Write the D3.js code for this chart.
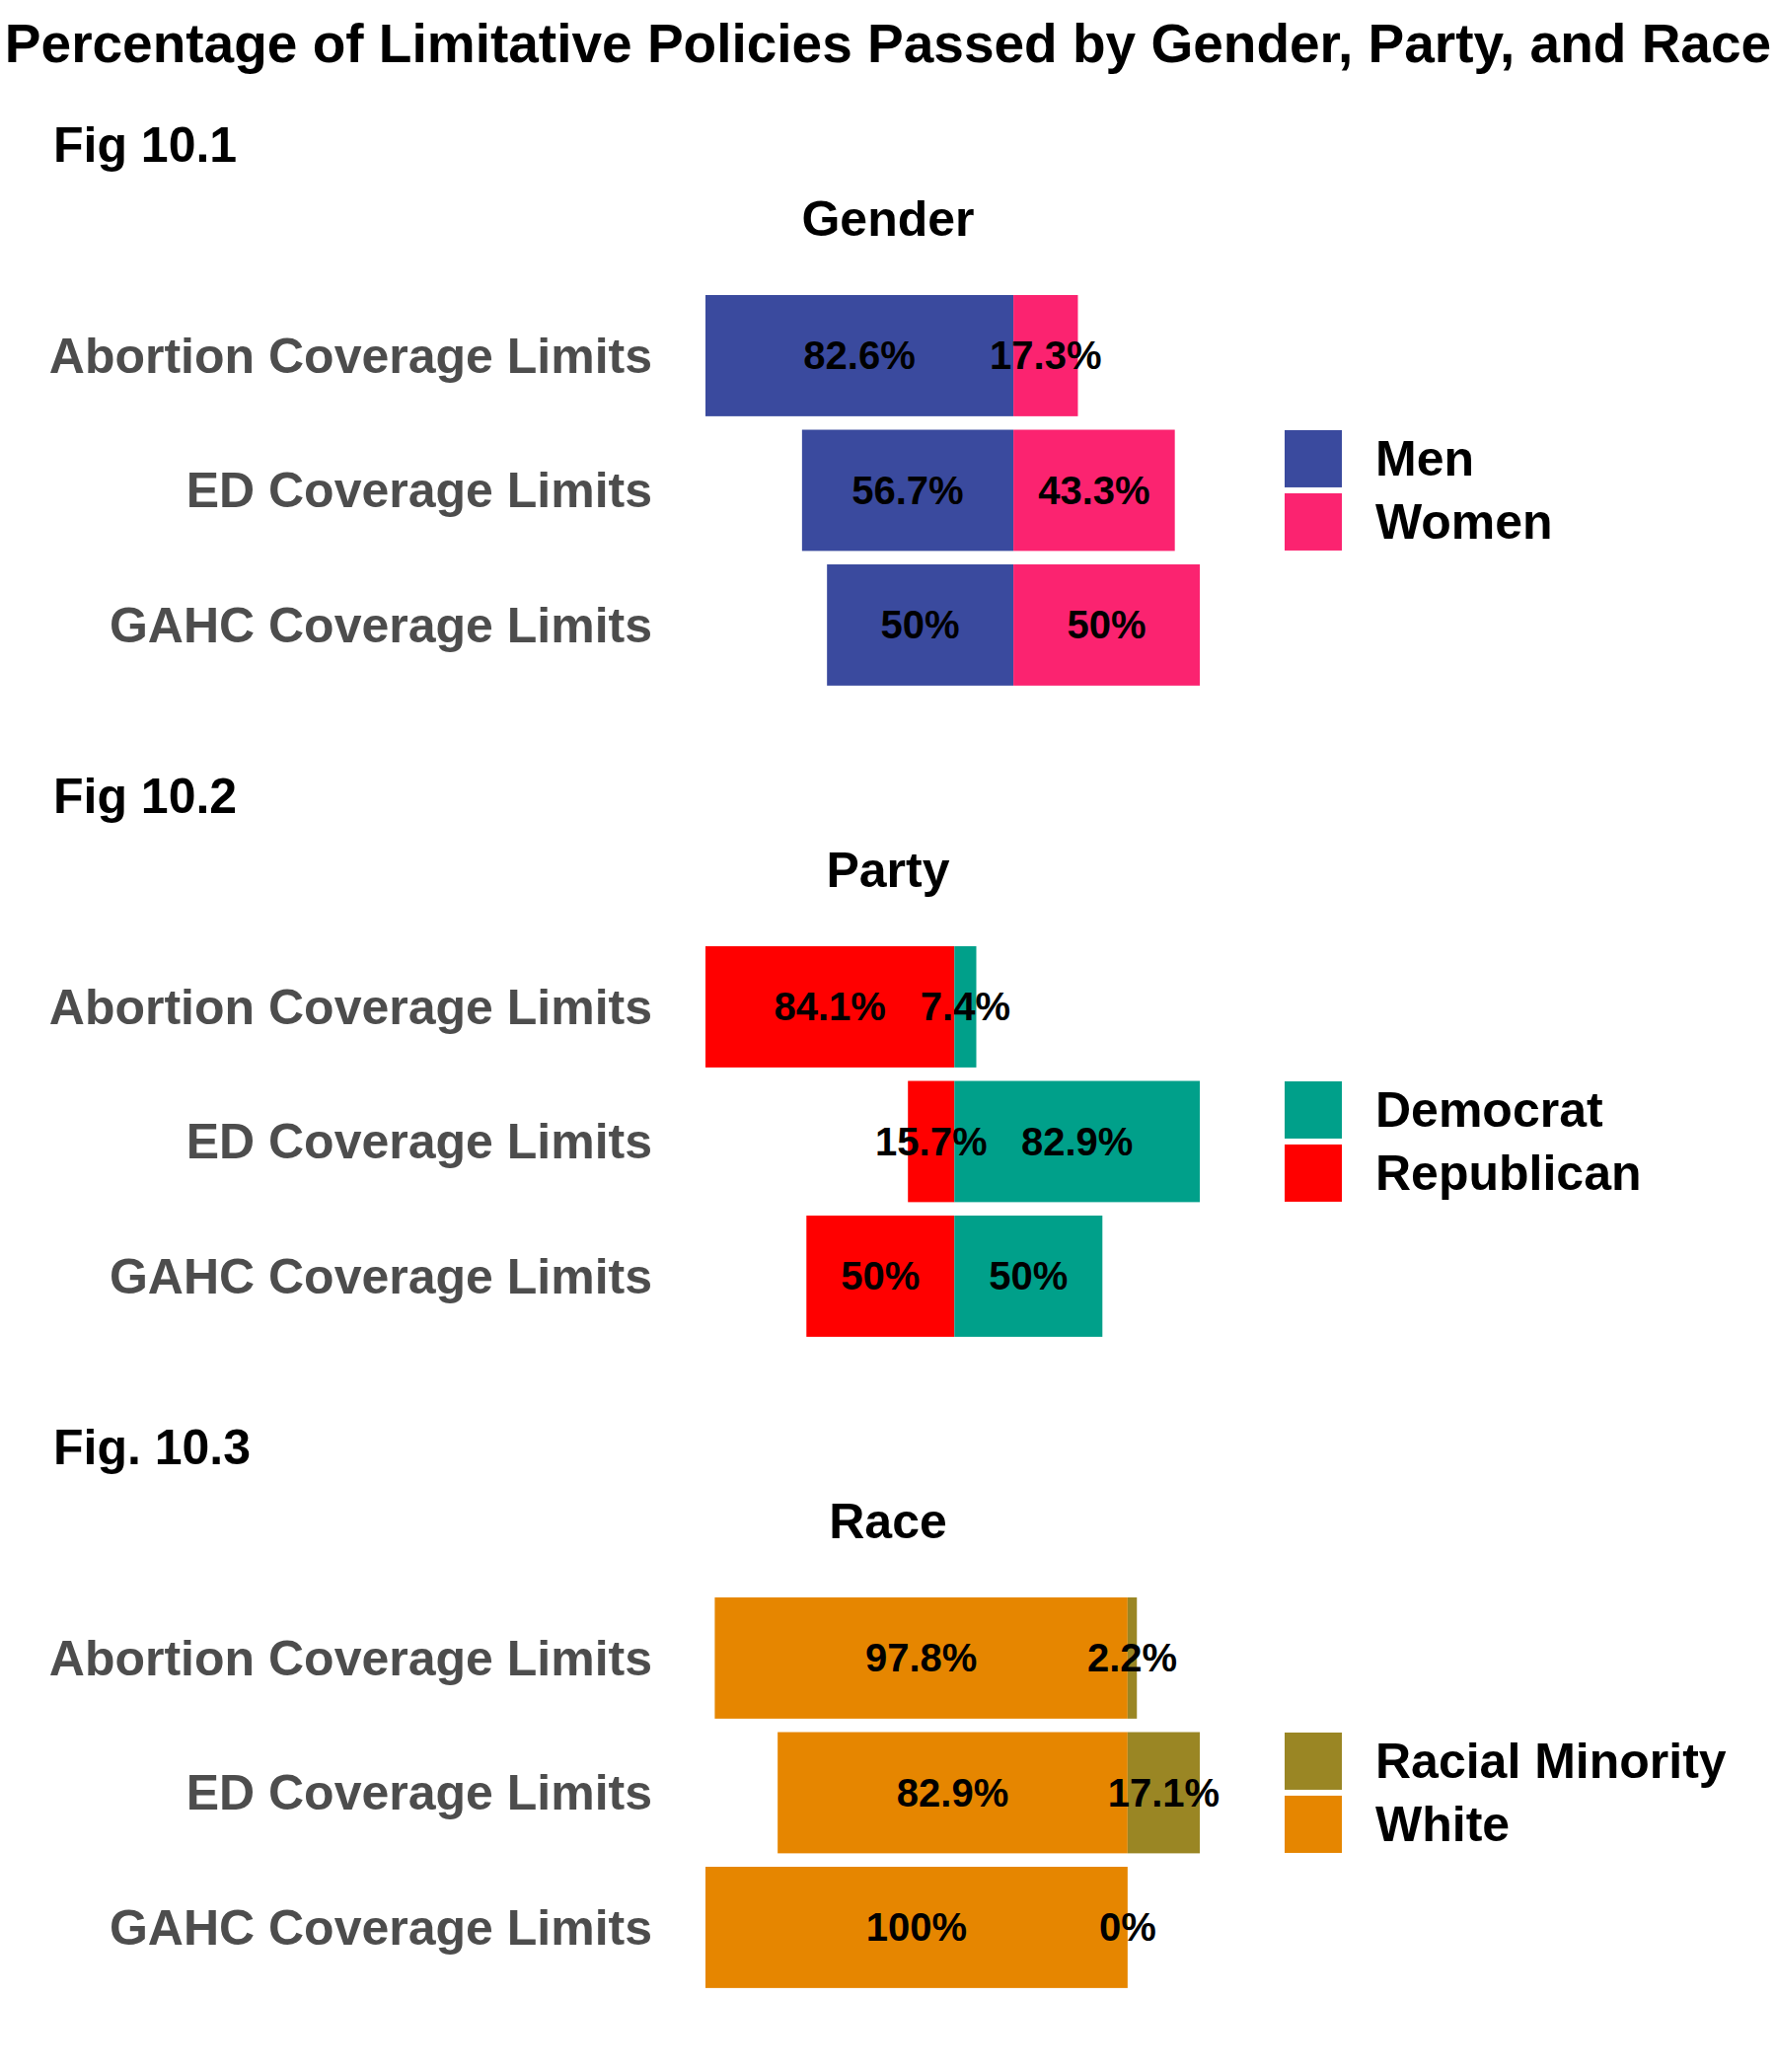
<!DOCTYPE html>
<html>
<head>
<meta charset="utf-8">
<script src="https://cdn.jsdelivr.net/npm/d3@7"></script>
<style>
body{margin:0;background:#fff;}
text{font-family:"Liberation Sans",Arial,Helvetica,sans-serif;font-weight:bold;}
</style>
</head>
<body>
<div class="canvas"></div>
<script>
/* values, one pair of arrays per panel */
var policies = ['Abortion Coverage Limits','ED Coverage Limits','GAHC Coverage Limits'];

var genderLegend = ['Men','Women'];
var genderMen = [82.6, 56.7, 50];
var genderWomen = [17.3, 43.3, 50];

var partyLegend = ['Democrat','Republican'];
var partyRep = [84.1, 15.7, 50];
var partyDem = [7.4, 82.9, 50];

var raceLegend = ['Racial Minority','White'];
var raceWhite = [97.8, 82.9, 100];
var raceMinority = [2.2, 17.1, 0];

var figLabels = ['Fig 10.1','Fig 10.2','Fig. 10.3'];
var panelTitles = ['Gender','Party','Race'];

// colours: [left bar, right bar] and legend order
var genderColors = {Men:'#3A4A9E', Women:'#FB2370'};
var partyColors = {Democrat:'#00A08A', Republican:'#FF0000'};
var raceColors = {'Racial Minority':'#9A8624', White:'#E68600'};

var panels = [
    {left:genderMen, right:genderWomen, leftName:'Men', rightName:'Women', legend:genderLegend, colors:genderColors},
    {left:partyRep, right:partyDem, leftName:'Republican', rightName:'Democrat', legend:partyLegend, colors:partyColors},
    {left:raceWhite, right:raceMinority, leftName:'White', rightName:'Racial Minority', legend:raceLegend, colors:raceColors}
];

var canvasWidth = 1800,
    canvasHeight = 2100;
var panelOffset = 660;
var plotLeft = 715, plotRight = 1216;
var step = 136.5;
var bandTop = 292.2;

var svg = d3.select('.canvas')
    .append('svg')
    .attr('width',canvasWidth)
    .attr('height',canvasHeight);

svg.append('text')
    .attr('x',canvasWidth/2)
    .attr('y',63)
    .attr('text-anchor','middle')
    .style('font-size','55px')
    .style('fill','#000')
    .text('Percentage of Limitative Policies Passed by Gender, Party, and Race');

panels.forEach(drawPanel);

function drawPanel(p,i){
    var off = i*panelOffset;
    var g = svg.append('g')
        .attr('class','panel-'+i)
        .attr('transform','translate(0,'+off+')');

    g.append('text')
        .attr('x',54)
        .attr('y',164)
        .style('font-size','50px')
        .text(figLabels[i]);

    g.append('text')
        .attr('x',canvasWidth/2)
        .attr('y',239)
        .attr('text-anchor','middle')
        .style('font-size','50px')
        .text(panelTitles[i]);

    var x = d3.scaleLinear()
        .domain([-d3.max(p.left), d3.max(p.right)])
        .range([plotLeft, plotRight]);

    var y = d3.scaleBand()
        .domain(policies)
        .range([bandTop, bandTop + 3*step])
        .paddingInner(0.1)
        .paddingOuter(0.05);

    var rows = policies.map(function(d,k){
        return {policy:d, left:p.left[k], right:p.right[k]};
    });

    // left segments (negative side)
    g.selectAll('rect.left')
        .data(rows)
        .enter()
        .append('rect')
        .attr('class','left')
        .attr('x',function(d){return x(-d.left);})
        .attr('y',function(d){return y(d.policy);})
        .attr('width',function(d){return x(0)-x(-d.left);})
        .attr('height',y.bandwidth())
        .style('fill',p.colors[p.leftName]);

    g.selectAll('rect.right')
        .data(rows)
        .enter()
        .append('rect')
        .attr('class','right')
        .attr('x',x(0))
        .attr('y',function(d){return y(d.policy);})
        .attr('width',function(d){return x(d.right)-x(0);})
        .attr('height',y.bandwidth())
        .style('fill',p.colors[p.rightName]);

    g.selectAll('text.vl')
        .data(rows)
        .enter()
        .append('text')
        .attr('class','vl')
        .attr('x',function(d){return x(-d.left/2);})
        .attr('y',function(d){return y(d.policy)+y.bandwidth()/2;})
        .attr('dy','0.35em')
        .attr('text-anchor','middle')
        .style('font-size','40px')
        .text(function(d){return d.left+'%';});

    g.selectAll('text.vr')
        .data(rows)
        .enter()
        .append('text')
        .attr('class','vr')
        .attr('x',function(d){return x(d.right/2);})
        .attr('y',function(d){return y(d.policy)+y.bandwidth()/2;})
        .attr('dy','0.35em')
        .attr('text-anchor','middle')
        .style('font-size','40px')
        .text(function(d){return d.right+'%';});

    // category labels on the left
    g.selectAll('text.cat')
        .data(policies)
        .enter()
        .append('text')
        .attr('class','cat')
        .attr('x',661)
        .attr('y',function(d){return y(d)+y.bandwidth()/2;})
        .attr('dy','0.35em')
        .attr('text-anchor','end')
        .style('font-size','50px')
        .style('fill','#4D4D4D')
        .text(function(d){return d;});

    // legend, centred on the middle row
    var midY = y(policies[1]) + y.bandwidth()/2;
    var leg = g.selectAll('g.key')
        .data(p.legend)
        .enter()
        .append('g')
        .attr('class','key')
        .attr('transform',function(d,k){return 'translate(1302,'+(midY-61+k*64)+')';});

    leg.append('rect')
        .attr('width',58)
        .attr('height',58)
        .style('fill',function(d){return p.colors[d];});

    leg.append('text')
        .attr('x',92)
        .attr('y',29)
        .attr('dy','0.35em')
        .style('font-size','50px')
        .style('fill','#000')
        .text(function(d){return d;});
}
</script>
</body>
</html>
